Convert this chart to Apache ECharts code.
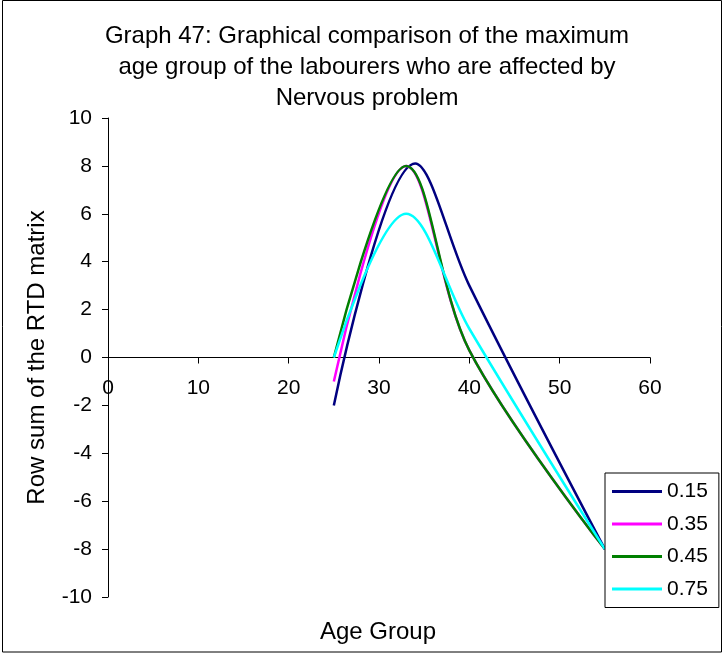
<!DOCTYPE html>
<html>
<head>
<meta charset="utf-8">
<script src="https://cdn.jsdelivr.net/npm/echarts@6/dist/echarts.min.js"></script>
<style>html,body{margin:0;padding:0;background:#fff}#c{width:725px;height:654px}</style>
</head>
<body>
<div id="c"></div>
<script>
var ageGroups = [25, 33, 40, 55];
var ageGroups015 = [25, 34, 40, 55];
var s015 = [-2, 8.1, 3, -8];
var s035 = [-1, 8, 0.3, -8];
var s045 = [0, 8, 0.3, -8];
var s075 = [0, 6, 1.2, -8];
var seriesNames = ['0.15', '0.35', '0.45', '0.75'];
var seriesColors = ['#000080', '#FF00FF', '#008000', '#00FFFF'];
var yTicks = [-10, -8, -6, -4, -2, 0, 2, 4, 6, 8, 10];
var xTicks = [0, 10, 20, 30, 40, 50, 60];

var allVals = [s015, s035, s045, s075];
var allX = [ageGroups015, ageGroups, ageGroups, ageGroups];
var font = 'Liberation Sans, Arial, sans-serif';
function pairs(xs, v){ return xs.map(function(x,i){return [x, v[i]];}); }

var gridTop = 118, gridBottom = 57, H = 654;
var gridH = H - gridTop - gridBottom;

var chart = echarts.init(document.getElementById('c'), null, {renderer:'canvas'});
chart.setOption({
  animation: false,
  backgroundColor: '#fff',
  title: {
    text: 'Graph 47: Graphical comparison of the maximum\nage group of the labourers who are affected by\nNervous problem',
    left: 362, top: 16, textAlign: 'center',
    textStyle: {fontFamily: font, fontSize: 24, fontWeight: 'normal', color: '#000', lineHeight: 31}
  },
  grid: {left: 108, right: 75, top: gridTop, bottom: gridBottom, containLabel: false},
  legend: {
    orient: 'vertical', left: 605, top: 473,
    padding: [8, 11, 8, 7], itemGap: 11.5, itemWidth: 50, itemHeight: 3,
    borderColor: '#000', borderWidth: 1, backgroundColor: '#fff',
    icon: 'rect',
    textStyle: {fontFamily: font, fontSize: 21, color: '#000'},
    data: seriesNames
  },
  xAxis: {
    type: 'value', min: xTicks[0], max: xTicks[xTicks.length-1], interval: 10,
    offset: -gridH / 2,
    axisLine: {onZero: false, lineStyle: {color: '#000', width: 1}},
    axisTick: {show: true, inside: false, length: 6, lineStyle: {color: '#000'}},
    axisLabel: {fontFamily: font, fontSize: 21, color: '#000', margin: 20},
    splitLine: {show: false}
  },
  yAxis: {
    type: 'value', min: yTicks[0], max: yTicks[yTicks.length-1], interval: 2,
    axisLine: {show: true, onZero: false, lineStyle: {color: '#000', width: 1}},
    axisTick: {show: true, inside: false, length: 6, lineStyle: {color: '#000'}},
    axisLabel: {fontFamily: font, fontSize: 21, color: '#000', margin: 16},
    splitLine: {show: false},
    name: 'Row sum of the RTD matrix', nameLocation: 'middle', nameGap: 59,
    nameTextStyle: {fontFamily: font, fontSize: 24, color: '#000'}
  },
  graphic: [
    {type: 'rect', shape: {x: 2.5, y: 0.5, width: 719, height: 651.5}, style: {fill: null, stroke: '#000', lineWidth: 1}, z: -1},
    {type: 'text', x: 378, y: 632, style: {text: 'Age Group', font: '24px Liberation Sans, Arial, sans-serif', fill: '#000', textAlign: 'center', textVerticalAlign: 'middle'}}
  ],
  series: allVals.map(function(v, i){
    return {
      name: seriesNames[i], type: 'line', data: pairs(allX[i], v), smooth: 0.35,
      showSymbol: false, symbol: 'none',
      lineStyle: {color: seriesColors[i], width: 2.5},
      itemStyle: {color: seriesColors[i]}
    };
  })
});
</script>
</body>
</html>
